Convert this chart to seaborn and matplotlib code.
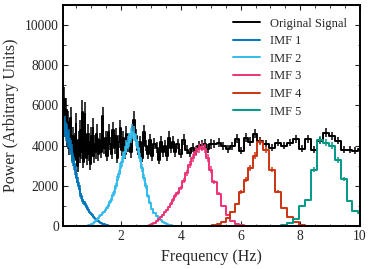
import numpy as np
import pandas as pd
import matplotlib
matplotlib.use("Agg")
import matplotlib.pyplot as plt
from matplotlib.ticker import MultipleLocator
import seaborn as sns

# frequency bins (Hz): wider bins at higher frequency
bin_segments = [(0.05, 1.25, 0.03), (1.25, 2.45, 0.05), (2.45, 3.85, 0.07),
                (3.85, 5.05, 0.10), (5.05, 6.55, 0.15), (6.55, 10.15, 0.20)]
# relative error per segment
seg_rel_err = [0.10, 0.08, 0.07, 0.06, 0.05, 0.045]

original = [
    # 0.05 - 1.25
    5600, 6300, 4900, 5800, 4400, 5200, 3900, 4700, 5400, 4100,
    3600, 4500, 3300, 4200, 5100, 3800, 3000, 4300, 3500, 4800,
    3700, 5700, 3200, 4000, 5600, 3900, 3400, 4600, 3600, 4200,
    3100, 4500, 3800, 4900, 3500, 4100, 3700, 4600, 4000, 3600,
    # 1.25 - 2.45
    4300, 3700, 5500, 3900, 4400, 3500, 4700, 4100, 3600, 4800,
    3900, 4500, 3400, 4200, 4900, 3800, 4400, 3600, 4600, 4000,
    4300, 3700, 4600, 5300,
    # 2.45 - 3.85
    4500, 3800, 4200, 3400, 4700, 4000, 3600, 4300, 3500, 4100,
    3900, 3300, 4200, 3700, 4000, 3500, 4400, 3900, 4200, 3700,
    # 3.85 - 5.05
    4100, 3600, 4300, 3800, 3650, 3900, 3750, 4000, 4050, 4100, 3850, 4100,
    # 5.05 - 6.55
    4100, 4150, 4000, 3850, 4000, 4350, 3750, 4400, 4200, 4600,
    # 6.55 - 10.15
    4250, 4100, 3900, 4150, 4000, 4150, 4350, 3850, 4350, 3800,
    4250, 4650, 4500, 4250, 3800, 3800, 3750, 3850,
]

imf1_start = 0.05
imf1 = [5100, 4900, 5000, 4700, 4600, 4300, 4400, 4000, 3900, 3700,
        3500, 3300, 3100, 2800, 2700, 2400, 2200, 2000, 1850, 1600,
        1500, 1300, 1200, 1150, 1150, 1050, 950, 850, 780, 700,
        650, 600, 550, 480, 430, 380, 340, 300, 260, 230,
        190, 150, 110, 80, 50, 30, 15]

imf2_start = 0.83
imf2 = [10, 20, 30, 40, 60, 80, 100, 130, 160, 200, 240, 290, 340, 400,
        480, 560, 650, 700, 800, 900, 1050, 1200, 1350, 1550,
        1750, 2000, 2300, 2600, 2900, 3200, 3400, 3700, 3950, 4150,
        4300, 4500, 4700, 4600,
        4300, 3900, 3400, 2900, 2400, 2000, 1500, 1150, 850, 650,
        500, 380, 280, 200, 140, 90, 50, 30, 10]

imf3_start = 2.87
imf3 = [20, 50, 100, 160, 240, 330, 450, 560, 680, 800, 950, 1100, 1300, 1500,
        1650, 1900, 2250, 2650, 3050, 3400, 3700, 3850, 3950, 3850, 3400, 2800,
        2200, 1600, 1000, 550, 250, 100, 30]

imf4_start = 5.05
imf4 = [30, 100, 220, 400, 700, 1100, 1700, 2300, 2900, 3500,
        4200, 3800, 2800, 1700, 900, 450, 180, 60]

imf5_start = 7.35
imf5 = [50, 150, 350, 1000, 1300, 2800, 4300, 4150, 4000, 3300,
        2350, 1250, 750, 650]

labels = ["Original Signal", "IMF 1", "IMF 2", "IMF 3", "IMF 4", "IMF 5"]
colors = ["black", "#0077BB", "#33BBEE", "#EE3377", "#CC3311", "#009988"]

# build the bin grid
edges = [bin_segments[0][0]]
rel = []
for (lo, hi, step), r in zip(bin_segments, seg_rel_err):
    n = int(round((hi - lo) / step))
    for i in range(1, n + 1):
        edges.append(round(lo + i * step, 4))
        rel.append(r)
edges = np.array(edges)
rel = np.array(rel)
centers = 0.5 * (edges[:-1] + edges[1:])

sns.set_theme(style="ticks")
plt.rcParams["font.family"] = ["Liberation Serif", "DejaVu Serif"]
plt.rcParams["mathtext.fontset"] = "stix"
plt.rcParams["xtick.direction"] = "in"
plt.rcParams["ytick.direction"] = "in"
plt.rcParams["xtick.top"] = True
plt.rcParams["ytick.right"] = True

fig = plt.figure(figsize=(3.73, 2.69), dpi=100)
ax = fig.add_axes([0.169, 0.16, 0.796, 0.821])

series = [(edges[0], original), (imf1_start, imf1), (imf2_start, imf2),
          (imf3_start, imf3), (imf4_start, imf4), (imf5_start, imf5)]

for (start, vals), lab, col in zip(series, labels, colors):
    i0 = int(np.argmin(np.abs(edges - start)))
    vals = np.array(vals, dtype=float)
    i1 = i0 + len(vals)
    sub_edges = list(edges[i0:i1 + 1])
    df = pd.DataFrame({"freq": centers[i0:i1], "power": vals})
    sns.histplot(data=df, x="freq", weights="power", bins=sub_edges,
                 element="step", fill=False, color=col, linewidth=1.4,
                 label=lab, ax=ax)
    ax.errorbar(df["freq"], vals, yerr=vals * rel[i0:i1], fmt="none",
                ecolor=col, elinewidth=1.1, capsize=0)

ax.set_xlim(0.05, 10)
ax.set_ylim(0, 11000)
ax.xaxis.set_major_locator(MultipleLocator(2))
ax.xaxis.set_minor_locator(MultipleLocator(0.5))
ax.yaxis.set_major_locator(MultipleLocator(2000))
ax.yaxis.set_minor_locator(MultipleLocator(1000))
ax.tick_params(which="major", length=3.5, width=0.8, labelsize=9.8, pad=3,
               direction="in", top=True, right=True)
ax.tick_params(which="minor", length=1.8, width=0.6, direction="in",
               top=True, right=True)
for sp in ax.spines.values():
    sp.set_linewidth(1.4)
    sp.set_color("black")

ax.set_xlabel("Frequency (Hz)", fontsize=11.5, labelpad=4)
ax.set_ylabel("Power (Arbitrary Units)", fontsize=11.5, labelpad=4)

ax.legend(loc="upper right", frameon=False, fontsize=9, handlelength=2.2,
          labelspacing=0.45, borderaxespad=0.6)

fig.savefig("out.png", dpi=100)
